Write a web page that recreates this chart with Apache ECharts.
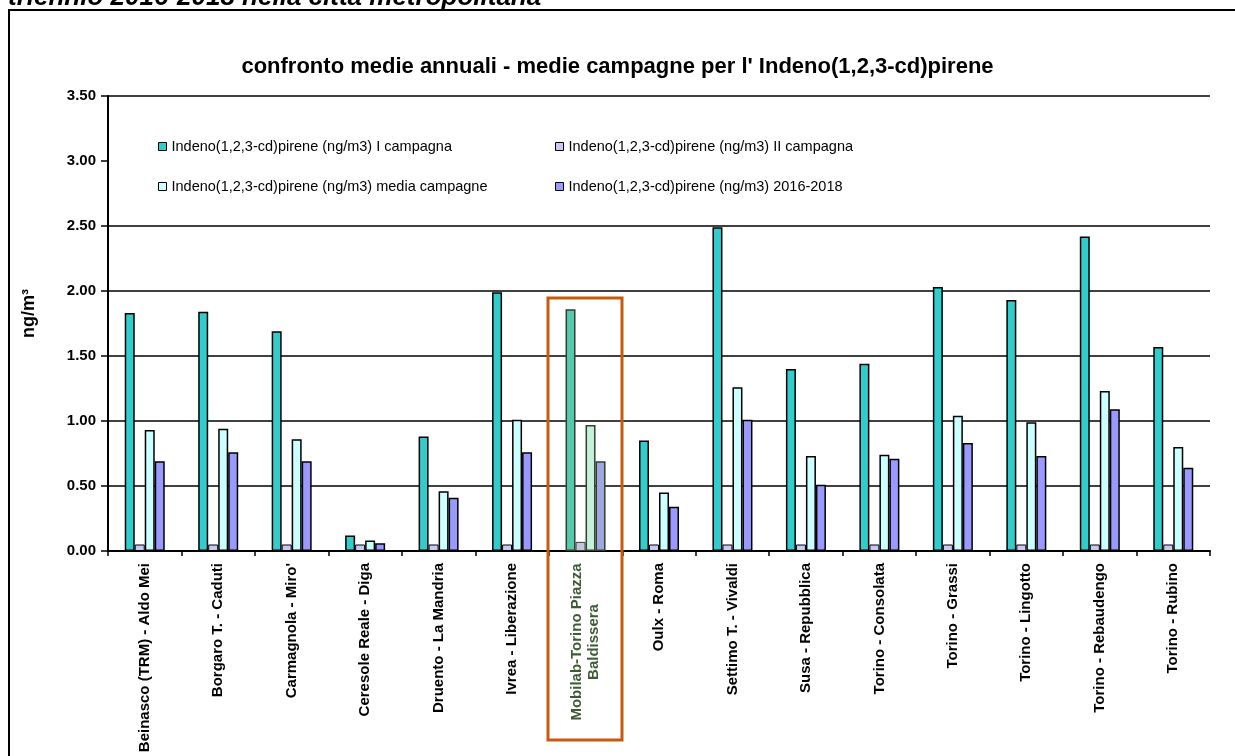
<!DOCTYPE html>
<html>
<head>
<meta charset="utf-8">
<script src="https://cdn.jsdelivr.net/npm/echarts@6/dist/echarts.min.js"></script>
<style>
  html, body { margin: 0; padding: 0; background: #fff; }
  #chart { width: 1235px; height: 756px; }
</style>
</head>
<body>
<div id="chart"></div>
<script>
const stations = [
  'Beinasco (TRM) - Aldo Mei',
  'Borgaro T. - Caduti',
  "Carmagnola - Miro'",
  'Ceresole Reale - Diga',
  'Druento - La Mandria',
  'Ivrea - Liberazione',
  'Mobilab-Torino Piazza\nBaldissera',
  'Oulx - Roma',
  'Settimo T. - Vivaldi',
  'Susa - Repubblica',
  'Torino - Consolata',
  'Torino - Grassi',
  'Torino - Lingotto',
  'Torino - Rebaudengo',
  'Torino - Rubino'
]
const seriesNames = [
  'Indeno(1,2,3-cd)pirene (ng/m3) I campagna',
  'Indeno(1,2,3-cd)pirene (ng/m3) II campagna',
  'Indeno(1,2,3-cd)pirene (ng/m3) media campagne',
  'Indeno(1,2,3-cd)pirene (ng/m3) 2016-2018'
]
const campagna1 = [1.83, 1.84, 1.69, 0.12, 0.88, 1.99, 1.86, 0.85, 2.49, 1.40, 1.44, 2.03, 1.93, 2.42, 1.57]
const campagna2 = [0.05, 0.05, 0.05, 0.05, 0.05, 0.05, 0.07, 0.05, 0.05, 0.05, 0.05, 0.05, 0.05, 0.05, 0.05]
const mediaCampagne = [0.93, 0.94, 0.86, 0.08, 0.46, 1.01, 0.97, 0.45, 1.26, 0.73, 0.74, 1.04, 0.99, 1.23, 0.80]
const triennio = [0.69, 0.76, 0.69, 0.06, 0.41, 0.76, 0.69, 0.34, 1.01, 0.51, 0.71, 0.83, 0.73, 1.09, 0.64]
const yTicks = [0, 0.5, 1, 1.5, 2, 2.5, 3, 3.5]

// the Mobilab station is highlighted in the original (tinted bars, orange frame)
const mobilabIndex = 6
const colors = ['#33CCCC', '#C8C8F4', '#CCFFFF', '#9999FF']
const tinted = ['#55C8B0', '#C0C8E0', '#C4F0DC', '#9EA8E0']

const font = 'Liberation Sans, Arial, sans-serif'

const makeSeries = (name, values, idx) => ({
  name: name,
  type: 'bar',
  data: values.map((v, i) => {
    if (i !== mobilabIndex) return v
    return { value: v, itemStyle: { color: tinted[idx], borderColor: '#33402e' } }
  }),
  barWidth: 10,
  barGap: '0%',
  itemStyle: {
    color: colors[idx],
    borderColor: '#000',
    borderWidth: idx === 1 ? 1 : 1.5
  }
})

const chart = echarts.init(document.getElementById('chart'), null, { renderer: 'canvas' })

const legendBase = {
  orient: 'vertical',
  itemWidth: 8,
  itemHeight: 8,
  itemGap: 25,
  icon: 'rect',
  itemStyle: { borderColor: '#000', borderWidth: 1 },
  textStyle: { fontFamily: font, fontSize: 14.5, color: '#000' },
  selectedMode: false
}

const option = {
  backgroundColor: '#fff',
  animation: false,
  color: colors,
  title: {
    text: "confronto medie annuali - medie campagne per l' Indeno(1,2,3-cd)pirene",
    left: 'center',
    top: 51,
    textStyle: { fontFamily: font, fontSize: 22, fontWeight: 'bold', color: '#000' }
  },
  legend: [
    Object.assign({}, legendBase, { left: 153, top: 134, data: [seriesNames[0], seriesNames[2]] }),
    Object.assign({}, legendBase, { left: 550, top: 134, data: [seriesNames[1], seriesNames[3]] })
  ],
  grid: { left: 108, right: 25, top: 96, bottom: 205 },
  xAxis: {
    type: 'category',
    data: stations,
    axisLine: { lineStyle: { color: '#000', width: 2 } },
    axisTick: { show: true, interval: 0, length: 5, lineStyle: { color: '#000', width: 1.5 } },
    axisLabel: {
      interval: 0,
      rotate: 90,
      margin: 12,
      fontFamily: font,
      fontSize: 15,
      fontWeight: 'bold',
      color: '#000',
      formatter: (value, index) => {
        if (index === mobilabIndex) {
          return value.split('\n').map(s => '{m|' + s + '}').join('\n')
        }
        return value
      },
      rich: {
        m: {
          width: 158,
          align: 'center',
          fontFamily: font,
          fontSize: 15,
          fontWeight: 'bold',
          color: '#3d5c36',
          lineHeight: 17
        }
      }
    }
  },
  yAxis: {
    type: 'value',
    min: 0,
    max: 3.5,
    interval: 0.5,
    name: 'ng/m³',
    nameLocation: 'middle',
    nameGap: 70,
    nameRotate: 90,
    nameTextStyle: { fontFamily: font, fontSize: 18, fontWeight: 'bold', color: '#000', padding: [0, 0, 0, 20] },
    axisLine: { show: true, lineStyle: { color: '#000', width: 2 } },
    axisTick: { show: true, length: 7, lineStyle: { color: '#000', width: 1.5 } },
    axisLabel: {
      margin: 12,
      fontFamily: font,
      fontSize: 15,
      fontWeight: 'bold',
      color: '#000',
      formatter: v => v.toFixed(2)
    },
    splitLine: {
      show: true,
      lineStyle: {
        width: 1.5,
        // no gridline at 3.00 in the original
        color: yTicks.map(t => (t === 3 ? 'rgba(0,0,0,0)' : '#000'))
      }
    }
  },
  series: [
    makeSeries(seriesNames[0], campagna1, 0),
    makeSeries(seriesNames[1], campagna2, 1),
    makeSeries(seriesNames[2], mediaCampagne, 2),
    makeSeries(seriesNames[3], triennio, 3)
  ],
  graphic: [
    {
      type: 'rect',
      shape: { x: 9, y: 10, width: 1300, height: 800 },
      style: { fill: 'none', stroke: '#000', lineWidth: 2 },
      silent: true
    },
    {
      type: 'text',
      x: 8,
      y: 11,
      style: {
        text: 'triennio 2016-2018 nella città metropolitana',
        font: 'italic bold 26px Liberation Sans, Arial, sans-serif',
        fill: '#000',
        verticalAlign: 'bottom'
      },
      silent: true
    },
    {
      type: 'rect',
      shape: { x: 548, y: 298, width: 74, height: 442 },
      style: { fill: 'none', stroke: '#C55A11', lineWidth: 3 },
      z: 100,
      silent: true
    }
  ]
}

chart.setOption(option)
</script>
</body>
</html>
